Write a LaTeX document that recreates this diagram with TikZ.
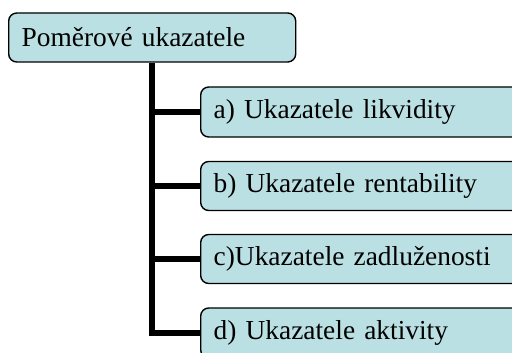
\documentclass[tikz,border=0pt]{standalone}
\usepackage{fontspec}
\setmainfont{Liberation Serif}
\definecolor{boxfill}{RGB}{187,224,227}
\begin{document}
\begin{tikzpicture}[x=1pt,y=-1pt,
  box/.style={draw=black, line width=1.4pt, fill=boxfill, rounded corners=8pt,
    anchor=west, inner xsep=13pt, inner ysep=0pt, align=left,
    minimum height=#1, font=\fontsize{27.4}{32}\selectfont},
  box/.default=49pt,
  conn/.style={line width=6.5pt, draw=black}]
\useasboundingbox (0,0) rectangle (512,353);
\clip (0,0) rectangle (512,353);
\node[box, text width=261pt] (top) at (8,37.5) {Poměrové ukazatele};
\node[box=50pt, text width=304pt] (a) at (200,112) {a) Ukazatele likvidity};
\node[box=49pt, text width=304pt] (b) at (200,186) {b) Ukazatele rentability};
\node[box=49pt, text width=304pt] (c) at (200,259) {c)Ukazatele zadluženosti};
\node[box=50pt, text width=304pt] (d) at (200,333) {d) Ukazatele aktivity};
\draw[conn] (top.south) |- (d.west);
\draw[conn] (top.south |- a.west) -- (a.west);
\draw[conn] (top.south |- b.west) -- (b.west);
\draw[conn] (top.south |- c.west) -- (c.west);
\end{tikzpicture}
\end{document}
